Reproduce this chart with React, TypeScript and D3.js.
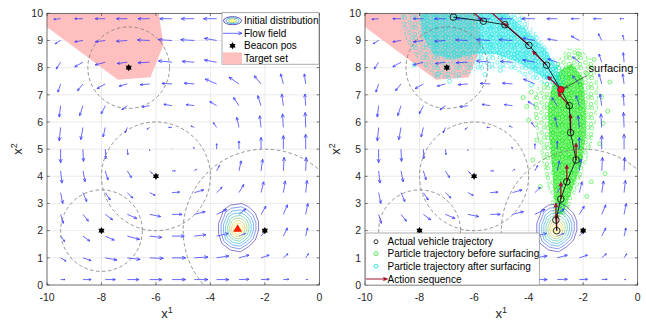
import React from 'react';
import * as d3 from 'd3';

const xTicks = [-10, -8, -6, -4, -2, 0];
const yTicks = [0, 1, 2, 3, 4, 5, 6, 7, 8, 9, 10];

// flow field grid (columns / rows) and vectors, rows from top to bottom
const flowX = [-9.5, -8.68, -7.86, -7.05, -6.23, -5.41, -4.59, -3.77, -2.95, -2.14, -1.32, -0.5];
const flowY = [9.8, 9.0, 8.2, 7.4, 6.6, 5.8, 5.0, 4.2, 3.4, 2.6, 1.8, 1.0, 0.2];
const flowU = [
  [-0.25, -0.3, -0.37, -0.4, -0.43, -0.45, -0.48, -0.48, -0.38, -0.3, -0.3, -0.15],
  [-0.2, -0.3, -0.37, -0.4, -0.45, -0.5, -0.5, -0.45, -0.35, -0.3, -0.12, -0.05],
  [-0.16, -0.3, -0.37, -0.37, -0.43, -0.5, -0.45, -0.45, -0.35, -0.25, -0.1, -0.03],
  [-0.1, -0.2, -0.3, -0.3, -0.35, -0.37, -0.37, -0.42, -0.37, -0.25, -0.1, -0.05],
  [-0.05, -0.12, -0.15, -0.2, -0.28, -0.3, -0.3, -0.25, -0.2, -0.12, -0.06, -0.03],
  [-0.05, -0.08, -0.08, -0.08, -0.1, -0.12, -0.12, -0.12, -0.08, -0.05, -0.03, -0.02],
  [0, 0.02, 0.02, 0.02, 0, 0.02, -0.03, 0, 0, 0, 0, 0],
  [0.05, 0.08, 0.1, 0.15, 0.1, 0.12, 0.08, 0.1, 0.08, 0.06, 0.03, 0.02],
  [0.08, 0.14, 0.18, 0.2, 0.2, 0.28, 0.35, 0.2, 0.18, 0.1, 0.07, 0.05],
  [0.1, 0.2, 0.27, 0.35, 0.4, 0.37, 0.4, 0.37, 0.25, 0.18, 0.15, 0.08],
  [0.15, 0.25, 0.33, 0.45, 0.45, 0.45, 0.43, 0.43, 0.25, 0.15, 0.15, 0.07],
  [0.2, 0.3, 0.43, 0.47, 0.5, 0.5, 0.5, 0.45, 0.37, 0.3, 0.17, 0.1],
  [0.16, 0.3, 0.37, 0.43, 0.45, 0.5, 0.5, 0.45, 0.37, 0.3, 0.2, 0.07],
];
const flowV = [
  [-0.02, 0, 0, 0, 0, 0, 0, 0, 0, 0, 0, 0],
  [-0.12, -0.05, -0.05, -0.03, 0.02, 0.03, 0.03, 0.08, 0.05, 0.16, 0.25, 0.2],
  [-0.25, -0.17, -0.1, -0.05, -0.02, 0.05, 0.03, 0.08, 0.12, 0.2, 0.3, 0.35],
  [-0.3, -0.25, -0.17, -0.08, -0.03, 0.02, 0.03, 0.18, 0.25, 0.3, 0.37, 0.37],
  [-0.42, -0.37, -0.3, -0.15, -0.05, 0.05, 0.04, 0.15, 0.3, 0.37, 0.43, 0.43],
  [-0.5, -0.45, -0.35, -0.2, -0.07, 0, 0.05, 0.18, 0.37, 0.43, 0.5, 0.55],
  [-0.5, -0.45, -0.35, -0.2, -0.05, 0.02, 0.08, 0.2, 0.3, 0.43, 0.5, 0.55],
  [-0.45, -0.4, -0.33, -0.25, -0.1, 0, 0.06, 0.2, 0.37, 0.43, 0.5, 0.5],
  [-0.4, -0.33, -0.27, -0.2, -0.1, 0.02, 0.1, 0.2, 0.3, 0.4, 0.43, 0.45],
  [-0.33, -0.25, -0.2, -0.15, -0.08, 0, 0.1, 0.18, 0.2, 0.3, 0.35, 0.4],
  [-0.2, -0.18, -0.15, -0.12, -0.05, 0, 0.05, 0.1, 0.1, 0.17, 0.3, 0.3],
  [-0.12, -0.1, -0.08, -0.06, -0.02, 0, 0.03, 0.07, 0.1, 0.1, 0.15, 0.15],
  [0, 0, 0, 0, 0, 0, 0, 0, 0.01, 0.01, 0.01, 0],
];

const targetX = [-10, -5.9, -5.72, -6.2, -7.4, -10];
const targetY = [10, 10, 8.85, 7.65, 7.55, 9.5];

const beaconX = [-7, -6, -8, -2];
const beaconY = [8, 4, 2, 2];
const beaconR = [1.5, 2, 1.5, 3];

// outer contour of the initial distribution, and the relative size of each level
const contourX = [-3.52, -3.27, -2.84, -2.6, -2.35, -2.23, -2.23, -2.35, -2.6, -2.9, -3.27, -3.58, -3.7, -3.7, -3.58];
const contourY = [2.76, 2.94, 3.0, 2.88, 2.64, 2.33, 2.02, 1.65, 1.41, 1.22, 1.29, 1.53, 1.9, 2.27, 2.57];
const contourLevels = [1, 0.87, 0.75, 0.64, 0.53, 0.43, 0.33, 0.23, 0.13];
const contourCenter = [-2.98, 2.06];
const startX = -3.0;
const startY = 2.05;

const trajX = [-2.97, -3.0, -2.82, -2.6, -2.26, -2.46, -2.51, -2.82, -3.34, -3.99, -4.87, -5.66, -6.76];
const trajY = [2.0, 2.39, 3.16, 3.8, 4.6, 5.61, 6.6, 7.19, 8.09, 8.82, 9.58, 9.71, 9.86];
const surfaceIdx = 7;
const actionU = [0, 0, 0, 0, 0, 0, -0.4, -0.45, -0.5, -0.9, -0.6, -0.5];
const actionV = [0.6, 0.6, 0.6, 0.6, 0.6, 0.65, 0.45, 0.47, 0.5, 0.8, 0.55, 0.45];

// particle clouds
const greenOuterX = [-3.09, -3.2, -3.4, -3.6, -3.75, -3.85, -3.65, -3.2, -2.9, -2.6, -2.11, -1.7, -1.45, -1.45, -1.6, -1.85, -2.2, -2.66];
const greenOuterY = [2.5, 3.14, 4.1, 4.97, 5.83, 6.8, 7.3, 7.8, 8.3, 8.7, 8.7, 8.3, 7.52, 6.54, 5.56, 4.58, 3.6, 2.5];
const greenCoreX = [-3.0, -3.08, -3.15, -3.25, -3.3, -3.15, -2.85, -2.4, -2.0, -1.9, -1.9, -2.05, -2.4, -2.75];
const greenCoreY = [2.6, 3.5, 4.5, 5.5, 6.5, 7.3, 7.9, 8.15, 7.6, 6.5, 5.5, 4.5, 3.5, 2.6];
const greenOutX = [-2.18, -1.87, -1.02, -1.33, -1.27, -1.2, -1.87, -4.07, -4.0, -3.7, -3.57, -1.4, -3.9, -1.6, -4.2, -1.1, -3.85, -1.7];
const greenOutY = [8.52, 7.78, 7.47, 6.93, 5.95, 4.1, 3.26, 6.57, 6.07, 5.33, 3.62, 5.2, 7.1, 8.3, 6.9, 6.4, 4.6, 3.8];
const cyanOuterX = [-2.6, -2.85, -3.34, -3.95, -4.8, -5.9, -6.6, -7.4, -8.0, -8.5, -8.7, -4.3, -3.7, -3.1, -2.75];
const cyanOuterY = [7.6, 7.0, 7.35, 7.6, 8.0, 7.9, 7.6, 7.6, 8.2, 9.0, 10, 10, 9.25, 8.4, 8.0];
const cyanCoreX = [-2.8, -3.5, -4.3, -5.2, -6.0, -6.8, -7.5, -7.9, -8.0, -4.8, -4.1, -3.4, -2.95];
const cyanCoreY = [7.3, 7.65, 8.15, 8.5, 8.5, 8.3, 8.5, 9.2, 10, 10, 9.4, 8.7, 8.0];
const cyanOutX = [-4.4, -5.03, -7.31, -4.33, -5.6, -6.9, -8.2, -3.9];
const cyanOutY = [8.4, 7.9, 7.78, 9.76, 7.75, 7.5, 8.1, 7.35];

const surfLabel = 'surfacing';
const surfLabelX = -1.8;
const surfLabelY = 7.85;

const leftLegend = ['Initial distribution', 'Flow field', 'Beacon pos', 'Target set'];
const rightLegend = ['Actual vehicle trajectory', 'Particle trajectory before surfacing', 'Particle trajectory after surfacing', 'Action sequence'];

const parula = d3.interpolateRgbBasis(['#3e26a8', '#4358f1', '#2a8ef0', '#14b2d0', '#38c0a0', '#80c860', '#c8c030', '#f9d22a', '#f9fb14']);

const FONT = 'Liberation Sans, Arial, Helvetica, sans-serif';
const AX = '#262626';
const FLOW = '#2f2fff';
const ACTION = '#a2142f';
const GREEN = '#22ee22';
const CYAN = '#00e6e6';

function arrowPath(x1: number, y1: number, x2: number, y2: number, frac = 0.3, maxH = 4, ang = 0.42) {
  const dx = x2 - x1, dy = y2 - y1;
  const L = Math.hypot(dx, dy);
  const p = `M${x1},${y1}L${x2},${y2}`;
  if (L < 1) return p;
  const h = Math.min(maxH, L * frac);
  const a = Math.atan2(dy, dx);
  const ax = x2 - h * Math.cos(a - ang), ay = y2 - h * Math.sin(a - ang);
  const bx = x2 - h * Math.cos(a + ang), by = y2 - h * Math.sin(a + ang);
  return p + `M${ax},${ay}L${x2},${y2}L${bx},${by}`;
}

function hexagram(cx: number, cy: number, R: number) {
  const r = R / Math.sqrt(3);
  const pts: string[] = [];
  for (let i = 0; i < 12; i++) {
    const a = -Math.PI / 2 + (i * Math.PI) / 6;
    const rr = i % 2 === 0 ? R : r;
    pts.push(`${cx + rr * Math.cos(a)},${cy + rr * Math.sin(a)}`);
  }
  return 'M' + pts.join('L') + 'Z';
}

function Panel({ x0, x1, right }: { x0: number; x1: number; right: boolean }) {
  const x = d3.scaleLinear().domain([-10, 0]).range([x0, x1]);
  const y = d3.scaleLinear().domain([0, 10]).range([285, 13.3]);
  const clip = right ? 'clipR' : 'clipL';
  const poly = (xs: number[], ys: number[]) =>
    d3.line<number>().x((i) => x(xs[i])).y((i) => y(ys[i])).curve(d3.curveLinearClosed)(xs.map((_, i) => i)) || '';

  const arrows: React.ReactNode[] = [];
  flowY.forEach((fy, r) => {
    flowX.forEach((fx, c) => {
      if (right && fx < -5 && fy < 2.2) return; // under legend
      const d = arrowPath(x(fx), y(fy), x(fx + flowU[r][c]), y(fy + flowV[r][c]));
      arrows.push(<path key={`a${r}-${c}`} d={d} stroke={FLOW} strokeOpacity={0.75} strokeWidth={0.95} fill="none" />);
    });
  });

  const contours = contourLevels.map((s, k) => {
    const xs = contourX.map((v) => contourCenter[0] + s * (v - contourCenter[0]));
    const ys = contourY.map((v) => contourCenter[1] + s * (v - contourCenter[1]));
    return <path key={`c${k}`} d={poly(xs, ys)} fill="none" stroke={parula(k / (contourLevels.length - 1))} strokeWidth={0.75} strokeOpacity={0.8} />;
  });

  const lineGen = d3.line<number>().x((i) => x(trajX[i])).y((i) => y(trajY[i]));

  return (
    <g>
      <rect x={x0} y={y(10)} width={x1 - x0} height={y(0) - y(10)} fill="#fff" />
      {xTicks.map((t) => (
        <line key={`gx${t}`} x1={x(t)} x2={x(t)} y1={y(0)} y2={y(10)} stroke="#e3e3e3" strokeWidth={0.7} />
      ))}
      {yTicks.map((t) => (
        <line key={`gy${t}`} x1={x0} x2={x1} y1={y(t)} y2={y(t)} stroke="#e3e3e3" strokeWidth={0.7} />
      ))}
      <g clipPath={`url(#${clip})`}>
        <path d={poly(targetX, targetY)} fill="#ffbfbf" stroke="none" />
        {right && (
          <g>
            <path d={poly(greenOuterX, greenOuterY)} fill="url(#gSparse)" />
            <path d={poly(greenCoreX, greenCoreY)} fill="#3cf03c" fillOpacity={0.5} />
            <path d={poly(greenCoreX, greenCoreY)} fill="url(#gDense)" />
            {greenOutX.map((v, i) => (
              <circle key={`go${i}`} cx={x(v)} cy={y(greenOutY[i])} r={2} fill="none" stroke={GREEN} strokeWidth={0.6} />
            ))}
            <g opacity={0.9}>
              <path d={poly(cyanOuterX, cyanOuterY)} fill="url(#cSparse)" />
              <path d={poly(cyanCoreX, cyanCoreY)} fill="#33eaea" fillOpacity={0.42} />
              <path d={poly(cyanCoreX, cyanCoreY)} fill="url(#cDense)" />
              {cyanOutX.map((v, i) => (
                <circle key={`co${i}`} cx={x(v)} cy={y(cyanOutY[i])} r={2} fill="none" stroke={CYAN} strokeWidth={0.6} />
              ))}
            </g>
          </g>
        )}
        {beaconX.map((bx, i) => (
          <ellipse key={`bc${i}`} cx={x(bx)} cy={y(beaconY[i])} rx={x(bx + beaconR[i]) - x(bx)} ry={y(0) - y(beaconR[i])}
            fill="none" stroke="#7a7a7a" strokeWidth={0.8} strokeDasharray="3.5,2.5" />
        ))}
        {arrows}
        {contours}
        {right && (
          <g>
            {actionU.map((u, i) => (
              <path key={`ac${i}`} d={arrowPath(x(trajX[i]), y(trajY[i]), x(trajX[i] + u), y(trajY[i] + actionV[i]), 0.25, 3.5, 0.45)}
                stroke={ACTION} strokeWidth={1.3} fill="none" />
            ))}
            <path d={lineGen(trajX.map((_, i) => i)) || ''} fill="none" stroke="#000" strokeWidth={0.8} />
            {trajX.map((v, i) => (
              <circle key={`t${i}`} cx={x(v)} cy={y(trajY[i])} r={3.3}
                fill={i === surfaceIdx ? '#e8102a' : 'none'} stroke={i === surfaceIdx ? '#7a0010' : '#000'} strokeWidth={0.8} />
            ))}
          </g>
        )}
        {!right && (
          <path d={d3.symbol(d3.symbolTriangle, 34)() || ''} transform={`translate(${x(startX)},${y(startY)})`} fill="#ff1a00" />
        )}
        {beaconX.map((bx, i) => (
          <path key={`b${i}`} d={hexagram(x(bx), y(beaconY[i]), 3.6)} fill="#000" />
        ))}
      </g>
      <rect x={x0} y={y(10)} width={x1 - x0} height={y(0) - y(10)} fill="none" stroke={AX} strokeWidth={0.6} />
      {xTicks.map((t) => (
        <g key={`tx${t}`}>
          <line x1={x(t)} x2={x(t)} y1={y(0)} y2={y(0) - 2.7} stroke={AX} strokeWidth={0.6} />
          <line x1={x(t)} x2={x(t)} y1={y(10)} y2={y(10) + 2.7} stroke={AX} strokeWidth={0.6} />
          <text x={x(t)} y={301} textAnchor="middle" fontSize={10.5} fill={AX} fontFamily={FONT}>{t}</text>
        </g>
      ))}
      {yTicks.map((t) => (
        <g key={`ty${t}`}>
          <line x1={x0} x2={x0 + 2.7} y1={y(t)} y2={y(t)} stroke={AX} strokeWidth={0.6} />
          <line x1={x1} x2={x1 - 2.7} y1={y(t)} y2={y(t)} stroke={AX} strokeWidth={0.6} />
          <text x={x0 - 4} y={y(t)} dy="0.36em" textAnchor="end" fontSize={10.5} fill={AX} fontFamily={FONT}>{t}</text>
        </g>
      ))}
      <text x={right ? (x0 + x1) / 2 : 167} y={318} textAnchor="middle" fontSize={13} fill={AX} fontFamily={FONT}>
        x<tspan dy={-5} fontSize={9}>1</tspan>
      </text>
      <text transform={`translate(${x0 - 25},149) rotate(-90)`} textAnchor="middle" fontSize={13} fill={AX} fontFamily={FONT}>
        x<tspan dy={-5} fontSize={9}>2</tspan>
      </text>
      {right ? <RightLegend x={x} y={y} /> : <LeftLegend />}
    </g>
  );
}

function LeftLegend() {
  const bx = 222, by = 12.7, bw = 97, bh = 51.5;
  const rows = [20.7, 33.3, 45.7, 58.4];
  return (
    <g fontFamily={FONT} fontSize={10} fill="#000">
      <rect x={bx} y={by} width={bw} height={bh} fill="#fff" stroke="#8a8a8a" strokeWidth={0.7} />
      {[1, 0.72, 0.45, 0.2].map((s, k) => (
        <ellipse key={k} cx={232.5} cy={rows[0]} rx={9 * s} ry={4 * s} fill="none" stroke={parula(k / 3)} strokeWidth={0.8} />
      ))}
      <path d={arrowPath(223, rows[1], 242, rows[1], 0.3, 4)} stroke={FLOW} strokeOpacity={0.8} strokeWidth={0.9} fill="none" />
      <path d={hexagram(232.5, rows[2], 3.6)} fill="#000" />
      <rect x={223} y={rows[3] - 6} width={19} height={12} fill="#ffbfbf" />
      {leftLegend.map((t, i) => (
        <text key={t} x={244} y={rows[i]} dy="0.35em">{t}</text>
      ))}
    </g>
  );
}

function RightLegend({ x, y }: { x: d3.ScaleLinear<number, number>; y: d3.ScaleLinear<number, number> }) {
  const bx = 365.7, by = 233, bw = 173.6, bh = y(0) - 233;
  const rows = [241.7, 253.6, 266.2, 279];
  return (
    <g fontFamily={FONT} fontSize={10} fill="#000">
      <rect x={bx} y={by} width={bw} height={bh} fill="#fff" stroke="#8a8a8a" strokeWidth={0.7} />
      <circle cx={376} cy={rows[0]} r={2} fill="none" stroke="#000" strokeWidth={0.8} />
      <circle cx={376} cy={rows[1]} r={2} fill="none" stroke={GREEN} strokeWidth={0.8} />
      <circle cx={376} cy={rows[2]} r={2} fill="none" stroke={CYAN} strokeWidth={0.8} />
      <path d={arrowPath(366, rows[3], 387, rows[3], 0.3, 4, 0.4)} stroke={ACTION} strokeWidth={1.2} fill="none" />
      {rightLegend.map((t, i) => (
        <text key={t} x={387.5} y={rows[i]} dy="0.35em">{t}</text>
      ))}
      <text x={x(surfLabelX)} y={y(surfLabelY)} fontSize={11} fill="#000">{surfLabel}</text>
      <path d={arrowPath(x(surfLabelX) - 2, y(surfLabelY) + 4, x(trajX[surfaceIdx]) + 3.5, y(trajY[surfaceIdx]) - 1.5, 0.3, 4, 0.35)}
        stroke="#333" strokeWidth={0.7} fill="none" />
    </g>
  );
}

export default function App() {
  return (
    <svg width={646} height={322} viewBox="0 0 646 322" style={{ position: 'absolute', left: 0, top: 0, background: '#fff' }}>
      <defs>
        <clipPath id="clipL"><rect x={47} y={13.3} width={272.3} height={271.7} /></clipPath>
        <clipPath id="clipR"><rect x={365} y={13.3} width={272.7} height={271.7} /></clipPath>
        <pattern id="gDense" width={9} height={8} patternUnits="userSpaceOnUse">
          {[[2, 2], [6.5, 1.8], [4.2, 5], [7.3, 6], [1.6, 6.2]].map(([cx, cy], i) => (
            <circle key={i} cx={cx} cy={cy} r={1.8} fill="none" stroke="#11e611" strokeWidth={0.55} />
          ))}
        </pattern>
        <pattern id="gSparse" width={11} height={10} patternUnits="userSpaceOnUse">
          {[[2.5, 2.5], [8, 4], [5, 7.5], [9, 8.2]].map(([cx, cy], i) => (
            <circle key={i} cx={cx} cy={cy} r={1.8} fill="none" stroke={GREEN} strokeWidth={0.55} />
          ))}
        </pattern>
        <pattern id="cDense" width={9} height={8} patternUnits="userSpaceOnUse">
          {[[2, 2], [6.5, 1.8], [4.2, 5], [7.3, 6], [1.6, 6.2]].map(([cx, cy], i) => (
            <circle key={i} cx={cx} cy={cy} r={1.8} fill="none" stroke="#00dcdc" strokeWidth={0.55} />
          ))}
        </pattern>
        <pattern id="cSparse" width={11} height={10} patternUnits="userSpaceOnUse">
          {[[2.5, 2.5], [8, 4], [5, 7.5], [9, 8.2]].map(([cx, cy], i) => (
            <circle key={i} cx={cx} cy={cy} r={1.8} fill="none" stroke={CYAN} strokeWidth={0.55} />
          ))}
        </pattern>
      </defs>
      <Panel x0={47} x1={319.3} right={false} />
      <Panel x0={365} x1={637.7} right={true} />
    </svg>
  );
}
